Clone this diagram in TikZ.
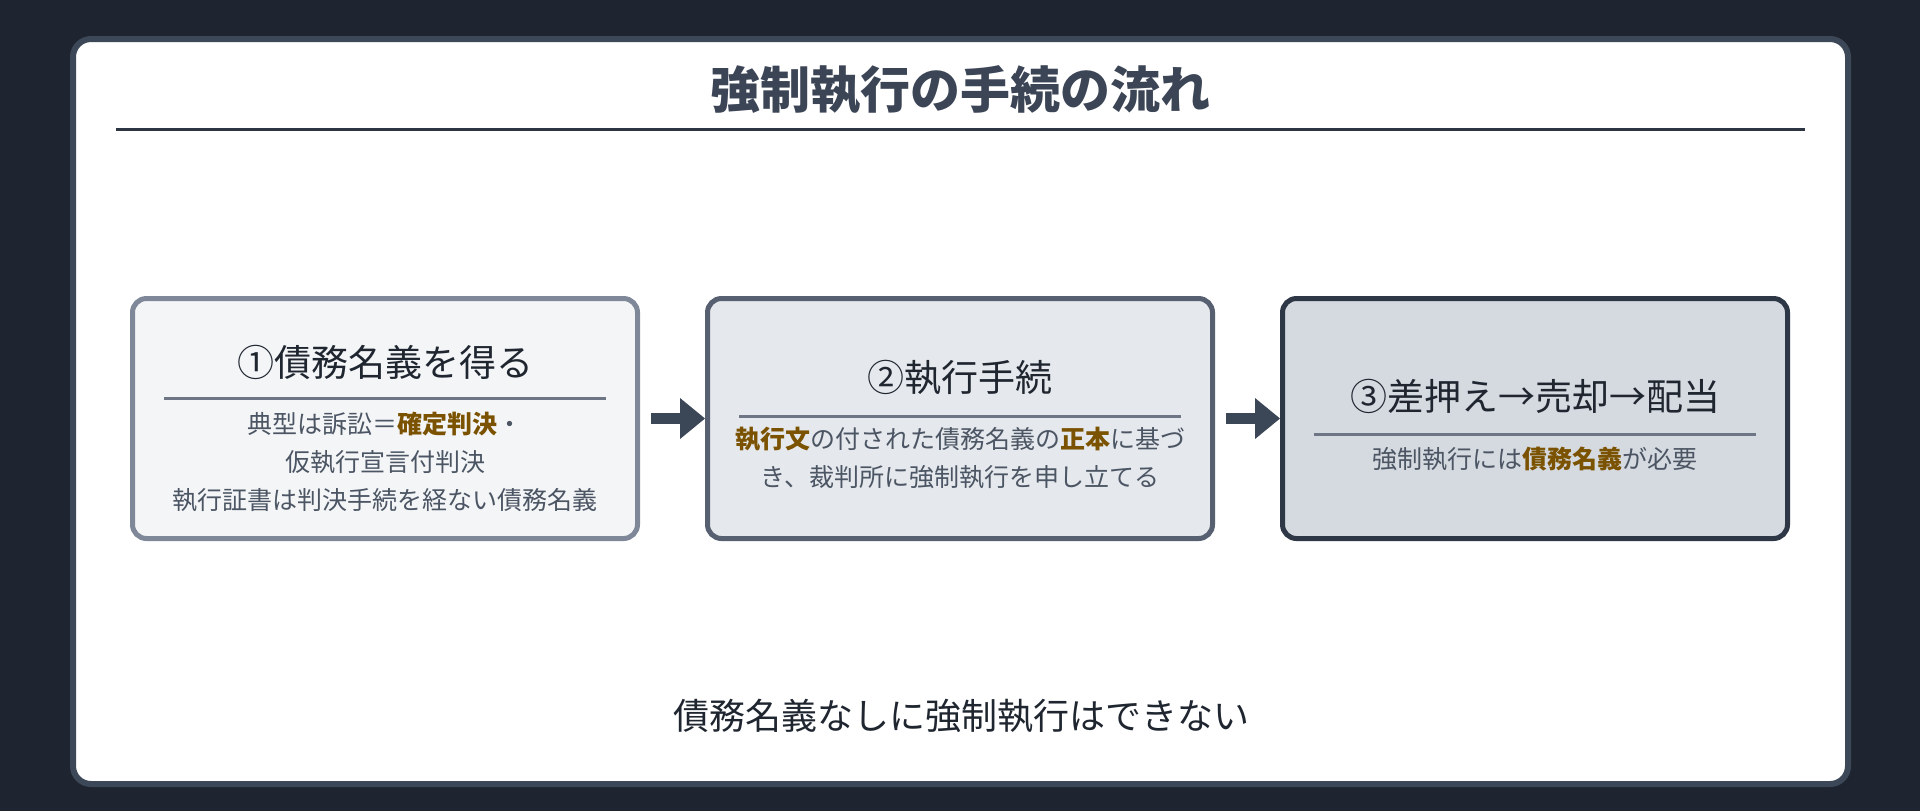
\documentclass[tikz,border=0pt]{standalone}
\usepackage{fontspec}
\setmainfont{Noto Sans CJK JP}
\usepackage{xcolor}
\usetikzlibrary{positioning,arrows.meta}

\definecolor{pagebg}{HTML}{1E2530}
\definecolor{panelline}{HTML}{3C4757}
\definecolor{headtext}{HTML}{3B4555}
\definecolor{headrule}{HTML}{2E3542}
\definecolor{ink}{HTML}{1F2630}
\definecolor{bodytext}{HTML}{4B5563}
\definecolor{keyword}{HTML}{7A5200}
\definecolor{innerrule}{HTML}{6E7685}
\definecolor{fillA}{HTML}{F4F5F7}
\definecolor{lineA}{HTML}{7F8898}
\definecolor{fillB}{HTML}{E5E8EC}
\definecolor{lineB}{HTML}{576070}
\definecolor{fillC}{HTML}{D5D9E0}
\definecolor{lineC}{HTML}{2E3746}
\definecolor{flowcol}{HTML}{3B4656}

\newcommand{\kw}[1]{\textbf{\textcolor{keyword}{#1}}}

\tikzset{
  stagebox/.style={draw, line width=2.5pt, rounded corners=7pt,
    minimum width=252.5pt, minimum height=120pt, inner sep=0pt},
  stagehead/.style={text=ink, font=\fontsize{18.5}{22}\selectfont, inner sep=0pt},
  stagebody/.style={text=bodytext, font=\fontsize{12.5}{19}\selectfont,
    align=center, inner sep=0pt},
  stagerule/.style={innerrule, line width=1.5pt},
  flow/.style={draw=flowcol, line width=5.5pt,
    -{Triangle[length=12.5pt,width=20.5pt,line width=0pt]}},
}

\begin{document}
\begin{tikzpicture}[x=0.5pt,y=-0.5pt]
% background and panel
\fill[pagebg] (0,0) rectangle (1920,811);
\useasboundingbox (0,0) rectangle (1920,811);
\draw[panelline, fill=white, line width=3pt, rounded corners=9pt] (73,39) rectangle (1848,784);

% title
\node[text=headtext, font=\fontsize{25}{30}\selectfont\bfseries, inner sep=0pt] (ttl) at (960.5,90) {強制執行の手続の流れ};
\draw[headrule, line width=1.5pt] (116,129.5) -- (1805,129.5);

% stages
\node[stagebox, draw=lineA, fill=fillA] (s1) at (385,418.5) {};
\node[stagebox, draw=lineB, fill=fillB] (s2) at (960,418.5) {};
\node[stagebox, draw=lineC, fill=fillC] (s3) at (1535,418.5) {};

\node[stagehead] (s1h) at (385,362) {①債務名義を得る};
\draw[stagerule] (164,398) -- (606,398);
\node[stagebody] (s1b) at (385,462) {典型は訴訟＝\kw{確定判決}・\\仮執行宣言付判決\\執行証書は判決手続を経ない債務名義};

\node[stagehead] (s2h) at (960,378) {②執行手続};
\draw[stagerule] (739,416) -- (1181,416);
\node[stagebody] (s2b) at (960,458) {\kw{執行文}の付された債務名義の\kw{正本}に基づ\\き、裁判所に強制執行を申し立てる};

\node[stagehead] (s3h) at (1535,396) {③差押え→売却→配当};
\draw[stagerule] (1314,434) -- (1756,434);
\node[stagebody] (s3b) at (1535,459) {強制執行には\kw{債務名義}が必要};

% arrows
\draw[flow] ([xshift=5.5pt]s1.east) -- (s2.west);
\draw[flow] ([xshift=5.5pt]s2.east) -- (s3.west);

% footer
\node[text=ink, font=\fontsize{18}{22}\selectfont, inner sep=0pt] (note) at (961,716) {債務名義なしに強制執行はできない};
\end{tikzpicture}
\end{document}
